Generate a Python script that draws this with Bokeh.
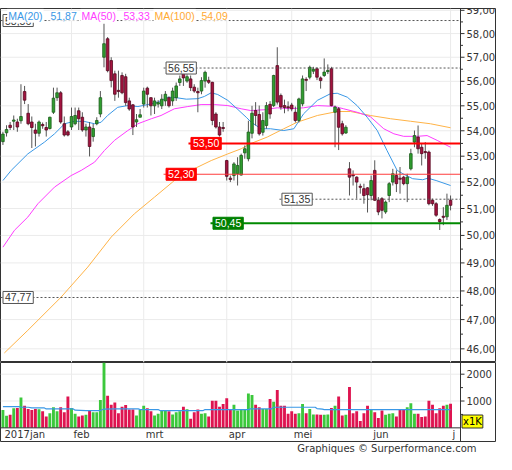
from bokeh.plotting import figure
from bokeh.layouts import column
from bokeh.models import Range1d, Span, Label, ColumnDataSource, Title
from bokeh.embed import file_html
from bokeh.resources import INLINE
from bokeh.core.properties import value

# ---------------- data ----------------
first_day = 3  # trading-day index of first candle (0 = 2 Jan 2017)
opens = [53.57, 53.92, 54.22, 54.38, 54.35, 54.40, 55.58, 54.70, 54.35, 54.03,
         53.90, 54.25, 54.13, 54.09, 54.74, 55.33, 55.53, 54.28, 53.96, 54.15,
         54.28, 54.80, 54.54, 54.03, 54.15, 53.77, 54.28, 54.67, 57.00, 57.78,
         56.86, 56.31, 55.63, 56.24, 56.19, 55.20, 55.04, 54.35, 54.54, 55.07,
         55.72, 55.33, 55.00, 55.07, 55.00, 55.20, 55.33, 55.20, 55.33, 55.95,
         56.37, 56.01, 56.10, 55.76, 55.58, 55.60, 56.01, 56.04, 55.96, 54.67,
         54.15, 54.13, 52.83, 52.15, 52.25, 52.32, 52.27, 53.13, 52.90, 53.90,
         54.81, 54.65, 53.94, 54.21, 55.06, 55.01, 56.65, 55.42, 55.01, 54.96,
         55.03, 54.74, 54.41, 55.08, 56.08, 56.17, 56.42, 56.52, 56.14, 56.24,
         56.40, 56.52, 54.74, 54.88, 54.28, 53.91, 52.51, 52.28, 52.19, 51.84,
         51.75, 51.78, 51.49, 52.45, 51.31, 51.37, 50.87, 51.49, 52.00, 52.25,
         52.15, 52.19, 51.94, 52.51, 53.55, 53.75, 53.35, 53.18, 53.16, 51.31,
         51.18, 50.59, 50.71, 50.69, 51.31]
highs = [53.96, 54.22, 54.35, 54.61, 54.48, 55.88, 55.81, 55.07, 54.57, 54.28,
         54.41, 54.33, 54.35, 54.56, 55.74, 55.74, 55.60, 54.57, 54.03, 54.93,
         54.93, 54.93, 54.74, 54.28, 54.35, 54.28, 54.54, 55.60, 58.42, 57.85,
         57.00, 56.44, 56.44, 56.37, 56.31, 55.33, 55.07, 54.67, 54.87, 55.74,
         55.78, 55.35, 55.33, 55.23, 55.47, 55.60, 55.38, 55.74, 55.95, 56.24,
         56.44, 56.29, 56.24, 55.88, 55.74, 56.17, 56.44, 56.19, 55.98, 54.74,
         54.35, 54.35, 52.86, 52.25, 52.77, 52.96, 53.10, 53.42, 54.40, 55.00,
         55.15, 55.01, 54.74, 55.15, 55.19, 56.27, 57.42, 55.50, 55.25, 55.18,
         55.12, 54.97, 55.33, 56.24, 56.17, 56.65, 56.60, 56.58, 56.20, 56.95,
         56.70, 56.60, 55.01, 54.95, 54.40, 54.22, 52.77, 52.45, 52.22, 51.94,
         51.94, 51.81, 52.25, 52.84, 51.43, 51.43, 51.30, 52.00, 52.51, 52.45,
         52.58, 52.24, 52.32, 53.29, 54.01, 54.21, 53.48, 53.55, 53.22, 51.37,
         51.24, 50.63, 51.05, 51.56, 51.49]
lows = [53.44, 53.77, 54.03, 54.03, 53.96, 54.28, 55.07, 54.22, 53.32, 53.38,
        53.77, 54.08, 53.77, 54.05, 54.67, 55.20, 54.28, 53.77, 53.78, 54.03,
        54.22, 54.03, 53.96, 53.77, 52.99, 53.57, 54.22, 54.54, 56.58, 56.37,
        55.75, 55.20, 55.33, 55.47, 55.00, 54.80, 53.83, 54.15, 54.54, 54.93,
        54.93, 54.61, 54.67, 54.93, 54.87, 55.00, 54.93, 55.00, 55.20, 55.81,
        55.81, 55.94, 55.60, 55.53, 54.74, 55.47, 55.74, 55.89, 54.22, 54.09,
        53.77, 53.96, 52.06, 52.00, 52.06, 51.87, 52.25, 52.90, 52.80, 53.70,
        54.21, 53.81, 53.81, 54.08, 54.48, 54.95, 55.05, 54.84, 54.70, 54.78,
        54.78, 54.33, 54.33, 54.98, 55.60, 56.08, 56.30, 56.05, 55.70, 56.18,
        56.30, 54.98, 53.35, 53.24, 53.81, 53.88, 51.49, 51.87, 51.37, 51.56,
        51.18, 50.85, 51.31, 51.28, 50.75, 50.63, 50.80, 51.24, 51.87, 51.62,
        51.56, 51.88, 51.24, 52.45, 53.35, 53.10, 52.64, 52.90, 51.12, 51.10,
        50.69, 50.20, 50.38, 50.57, 50.93]
closes = [53.87, 54.05, 54.13, 54.43, 54.15, 54.57, 55.23, 54.28, 54.13, 53.90,
          54.35, 54.20, 54.03, 54.54, 55.31, 55.53, 54.35, 53.83, 53.83, 54.57,
          54.61, 54.48, 54.03, 54.15, 53.38, 54.09, 54.41, 55.33, 57.57, 56.44,
          56.03, 55.47, 55.58, 55.53, 55.13, 54.87, 54.15, 54.44, 54.64, 55.60,
          55.47, 55.00, 55.20, 55.13, 55.27, 55.47, 55.00, 55.60, 55.81, 56.10,
          56.14, 56.19, 55.74, 55.60, 55.53, 56.03, 56.37, 55.96, 54.41, 54.15,
          53.83, 54.09, 52.22, 52.10, 52.70, 52.64, 53.03, 53.29, 53.95, 54.70,
          54.61, 53.88, 54.41, 55.01, 54.67, 56.24, 55.15, 54.95, 54.93, 54.92,
          54.88, 54.41, 55.28, 56.10, 56.04, 56.58, 56.50, 56.17, 56.03, 56.38,
          56.45, 55.01, 54.95, 54.14, 53.88, 54.14, 52.19, 52.24, 52.00, 51.80,
          51.49, 51.52, 52.06, 51.31, 50.87, 50.93, 51.24, 51.94, 52.32, 51.94,
          52.11, 51.94, 52.19, 53.10, 53.81, 53.29, 53.10, 53.14, 51.18, 51.18,
          50.75, 50.51, 50.67, 51.12, 51.12]
volumes = [669, 450, 487, 730, 742, 1132, 828, 706, 669, 706,
           694, 621, 426, 548, 767, 621, 767, 584, 1168, 742,
           523, 426, 462, 487, 645, 584, 584, 1034, 2600, 1193,
           864, 949, 548, 791, 852, 681, 681, 462, 669, 828,
           730, 621, 462, 523, 645, 645, 621, 499, 584, 621,
           791, 694, 341, 584, 681, 523, 548, 426, 1010, 1010,
           791, 888, 1107, 706, 864, 645, 669, 669, 1278, 1229,
           864, 767, 706, 706, 1071, 974, 1412, 828, 828, 523,
           621, 523, 548, 888, 548, 706, 499, 499, 487, 487,
           499, 742, 828, 1168, 462, 487, 1521, 548, 621, 256,
           548, 828, 706, 584, 365, 645, 487, 523, 548, 426,
           706, 669, 767, 913, 523, 523, 402, 426, 1010, 864,
           548, 730, 828, 864, 900]

ma20_x = [3.0, 5.3, 9.9, 14.5, 17.3, 20.1, 22.8, 25.6, 28.4, 30.2, 32.0, 34.8, 37.6, 40.4,
          43.1, 45.9, 48.7, 51.0, 53.8, 57.0, 58.8, 60.7, 62.5, 65.3, 68.1, 70.4, 71.8, 74.5,
          77.1, 80.8, 83.6, 86.3, 90.1, 93.7, 95.6, 98.4, 101.1, 103.9, 106.7, 109.4, 112.2,
          113.8, 116.5, 119.3, 120.7, 123.0, 127.0]
ma20_y = [52.06, 52.45, 53.09, 53.55, 53.88, 54.28, 54.38, 54.37, 54.28, 54.34, 54.61, 54.94,
          55.01, 54.97, 55.05, 55.15, 55.35, 55.33, 55.27, 55.29, 55.38, 55.53, 55.46, 55.22,
          54.85, 54.54, 54.34, 54.08, 54.08, 54.01, 54.08, 54.68, 55.22, 55.49, 55.51, 55.35,
          55.01, 54.54, 54.01, 53.22, 52.45, 52.32, 52.13, 52.09, 52.15, 52.06, 51.87]
ma50_x = [3.0, 6.2, 9.9, 12.7, 17.3, 21.9, 24.7, 28.4, 31.1, 33.9, 37.6, 40.4, 44.1, 46.8,
          50.5, 54.2, 57.9, 61.6, 65.3, 69.0, 71.6, 75.3, 79.0, 82.7, 86.3, 90.1, 94.7, 97.4,
          101.1, 104.8, 108.5, 111.3, 114.0, 117.8, 120.5, 123.3, 127.0]
ma50_y = [49.57, 50.19, 50.68, 51.18, 51.81, 52.25, 52.45, 52.77, 53.22, 53.62, 54.01, 54.28,
          54.48, 54.61, 54.88, 54.97, 55.05, 55.05, 55.01, 54.88, 54.81, 54.84, 54.92, 54.88,
          54.92, 55.01, 54.98, 54.88, 54.74, 54.56, 54.08, 53.88, 53.78, 53.78, 53.81, 53.62,
          53.35]
ma100_x = [3.4, 9.9, 19.1, 26.5, 33.0, 39.4, 45.0, 50.5, 56.1, 60.7, 65.3, 69.0, 71.6, 76.2,
           80.8, 84.5, 90.1, 95.6, 99.3, 104.8, 110.4, 115.9, 121.4, 127.0]
ma100_y = [45.86, 46.63, 47.78, 48.85, 49.94, 50.80, 51.43, 52.06, 52.52, 52.83, 53.09, 53.29,
           53.49, 53.75, 54.08, 54.34, 54.61, 54.77, 54.77, 54.61, 54.48, 54.38, 54.28, 54.12]
vol_ma_x = [3, 7.5, 8, 10, 11, 14.5, 15, 22.5, 23, 26, 30, 31, 34.5, 40.5, 41, 46, 46.5,
            58.5, 59, 71, 71.5, 77.5, 78, 89.5, 90, 91.5, 92, 127]
vol_ma_y = [791, 791, 767, 767, 742, 742, 706, 706, 660, 645, 645, 700, 706, 706, 681, 681,
            645, 645, 681, 681, 706, 706, 767, 767, 720, 700, 681, 681]

legend_names = ["MA(20)", "MA(50)", "MA(100)"]
legend_values = ["51,87", "53,33", "54,09"]

month_ticks = [0, 22, 42, 65, 83, 105, 127]
month_labels = ["2017jan", "feb", "mrt", "apr", "mei", "jun", "j"]

price_ticks = [46, 47, 48, 49, 50, 51, 52, 53, 54, 55, 56, 57, 58, 59]
price_tick_labels = ["46,00", "47,00", "48,00", "49,00", "50,00", "51,00", "52,00",
                     "53,00", "54,00", "55,00", "56,00", "57,00", "58,00", "59,00"]
vol_ticks = [1000, 2000]
vol_tick_labels = ["1000", "2000"]
vol_minor_ticks = [500, 1500]

level_values = [58.56, 56.55, 53.50, 52.30, 51.35, 50.45, 47.77]
level_labels = ["58,56", "56,55", "53,50", "52,30", "51,35", "50,45", "47,77"]

credit = "Graphiques \u00a9 Surperformance.com"

# ---------------- geometry / style ----------------
K = 3.61                      # px per trading day
X_START = 2.33
W = 496
AXIS_X = X_START + 460 / K
X_END = X_START + W / K
P_LOW, P_HIGH = 45.54, 59.08
V_LOW, V_HIGH = -509, 2436

UP_FILL, UP_LINE = "#2f9e2f", "#1a5c1a"
DN_FILL, DN_LINE = "#a3133f", "#56091f"
VUP, VDN = "#3cc83c", "#de1450"
C20, C50, C100 = "#3a98e6", "#ff3cff", "#ffb347"
GRID = "#ebebeb"
DARK = "#333333"
AXFONT = value("DejaVu Sans")

days = list(range(first_day, first_day + len(opens)))
up = [c >= o for o, c in zip(opens, closes)]
src = ColumnDataSource(dict(
    x=days, h=highs, l=lows,
    top=[max(o, c) for o, c in zip(opens, closes)],
    bot=[min(o, c) for o, c in zip(opens, closes)],
    fill=[UP_FILL if u else DN_FILL for u in up],
    line=[UP_LINE if u else DN_LINE for u in up],
    vol=volumes,
    vcol=[VUP if u else VDN for u in up],
))

# ---------------- price panel ----------------
xr = Range1d(X_START, X_END)
p = figure(width=W, height=362, x_range=xr, y_range=Range1d(P_LOW, P_HIGH),
           y_axis_type="log", x_axis_location=None, y_axis_location=None,
           output_backend="svg", toolbar_location=None,
           min_border_left=0, min_border_right=0, min_border_top=8, min_border_bottom=0)
p.grid.visible = False
p.outline_line_color = DARK
p.background_fill_color = "white"
p.border_fill_color = "white"

p.segment(x0=X_START, x1=AXIS_X, y0=price_ticks, y1=price_ticks, line_color=GRID, line_width=1)
p.segment(x0=month_ticks, x1=month_ticks, y0=P_LOW, y1=P_HIGH, line_color=GRID, line_width=1)

p.line(ma100_x, ma100_y, line_color=C100, line_width=1)
p.line(ma50_x, ma50_y, line_color=C50, line_width=1)
p.line(ma20_x, ma20_y, line_color=C20, line_width=1)

p.segment(x0="x", x1="x", y0="l", y1="h", source=src, line_color="#555555", line_width=1)
p.vbar(x="x", width=0.72, top="top", bottom="bot", source=src,
       fill_color="fill", line_color="line", line_width=0.8)

# level lines (start positions in trading-day units)
level_start = [X_START, 47.5, 54.4, 47.5, 79.6, 60.5, X_START]
level_style = ["dash", "dash", "red2", "red1", "dash", "green", "dash"]
for val, x0, st in zip(level_values, level_start, level_style):
    if st == "dash":
        p.segment(x0=x0, x1=AXIS_X, y0=val, y1=val, line_color="#555555", line_width=1, line_dash="2 2")
    elif st == "red2":
        p.segment(x0=x0, x1=AXIS_X, y0=val, y1=val, line_color="#ff0000", line_width=2)
    elif st == "red1":
        p.segment(x0=x0, x1=AXIS_X, y0=val, y1=val, line_color="#ff3c3c", line_width=1.2)
    else:
        p.segment(x0=x0, x1=AXIS_X, y0=val, y1=val, line_color="#008a00", line_width=2)

for val, txt, x0, st in zip(level_values, level_labels, level_start, level_style):
    if st in ("red2", "red1"):
        bg, bd, tc = "#ff0000", "#ff0000", "white"
    elif st == "green":
        bg, bd, tc = "#008000", "#008000", "white"
    else:
        bg, bd, tc = "white", "#555555", DARK
    p.add_layout(Label(x=x0 + 2.5 / K, y=val, text=txt, text_font="Liberation Sans",
                       text_font_size="10.5px", text_color=tc, text_baseline="middle",
                       text_align="left", background_fill_color=bg, border_line_color=bd,
                       padding=2))

# legend
leg_y = 58.77
leg_x = [4.18, 15.9, 24.49, 36.12, 44.71, 57.73]
leg_txt = [legend_names[0], legend_values[0], legend_names[1], legend_values[1],
           legend_names[2], legend_values[2]]
leg_col = [C20, C20, C50, C50, "#ffaa33", "#ffaa33"]
for xx, tt, cc in zip(leg_x, leg_txt, leg_col):
    p.add_layout(Label(x=xx, y=leg_y, text=tt, text_font="Liberation Sans",
                       text_font_size="10.5px", text_color=cc, text_baseline="middle",
                       text_align="left", background_fill_color="white", padding=1))

# right axis
p.add_layout(Span(location=AXIS_X, dimension="height", line_color=DARK, line_width=1))
p.segment(x0=AXIS_X, x1=AXIS_X + 4 / K, y0=price_ticks, y1=price_ticks, line_color=DARK)
p.segment(x0=AXIS_X, x1=AXIS_X + 2.5 / K, y0=[t + 0.5 for t in price_ticks],
          y1=[t + 0.5 for t in price_ticks], line_color=DARK)
p.text(x=AXIS_X + 6 / K, y=price_ticks, text=price_tick_labels, text_font=AXFONT,
       text_font_size="10px", text_baseline="middle", text_align="left", text_color=DARK)

# ---------------- volume panel ----------------
v = figure(width=W, height=92, x_range=xr, y_range=Range1d(V_LOW, V_HIGH),
           x_axis_location=None, y_axis_location=None,
           output_backend="svg", toolbar_location=None,
           min_border_left=0, min_border_right=0, min_border_top=0, min_border_bottom=0)
v.grid.visible = False
v.outline_line_color = DARK
v.background_fill_color = "white"
v.border_fill_color = "white"

v.add_layout(Title(text=credit, align="right", text_font="DejaVu Sans",
                   text_font_size="10px", text_font_style="normal", text_color=DARK,
                   standoff=0, offset=20, vertical_align="middle"), "below")

v.segment(x0=X_START, x1=AXIS_X, y0=vol_ticks, y1=vol_ticks, line_color=GRID)
v.segment(x0=month_ticks, x1=month_ticks, y0=0, y1=V_HIGH, line_color=GRID)
v.vbar(x="x", width=0.8, top="vol", bottom=0, source=src, fill_color="vcol", line_color=None)
v.line(vol_ma_x, vol_ma_y, line_color=C20, line_width=1.2)
v.segment(x0=X_START, x1=AXIS_X, y0=0, y1=0, line_color=DARK, line_width=1)
v.add_layout(Span(location=AXIS_X, dimension="height", line_color=DARK, line_width=1))
v.segment(x0=AXIS_X, x1=AXIS_X + 4 / K, y0=vol_ticks, y1=vol_ticks, line_color=DARK)
v.segment(x0=AXIS_X, x1=AXIS_X + 2.5 / K, y0=vol_minor_ticks, y1=vol_minor_ticks, line_color=DARK)
v.text(x=AXIS_X + 6 / K, y=vol_ticks, text=vol_tick_labels, text_font=AXFONT,
       text_font_size="10px", text_baseline="middle", text_align="left", text_color=DARK)

lab_x = [max(t, X_START + 2 / K) for t in month_ticks]
v.text(x=lab_x, y=-255, text=month_labels, text_font=AXFONT, text_font_size="10px",
       text_baseline="middle", text_align="left", text_color=DARK, x_offset=2)

v.add_layout(Label(x=AXIS_X + 1.5 / K, y=236, text="x1K", text_font="DejaVu Sans",
                   text_font_size="10px", text_color="#000000", text_baseline="middle",
                   text_align="left", background_fill_color="#ffff00",
                   border_line_color=DARK, padding=1))

layout = column(p, v, spacing=0)
open("out.html", "w").write(file_html(layout, INLINE))
